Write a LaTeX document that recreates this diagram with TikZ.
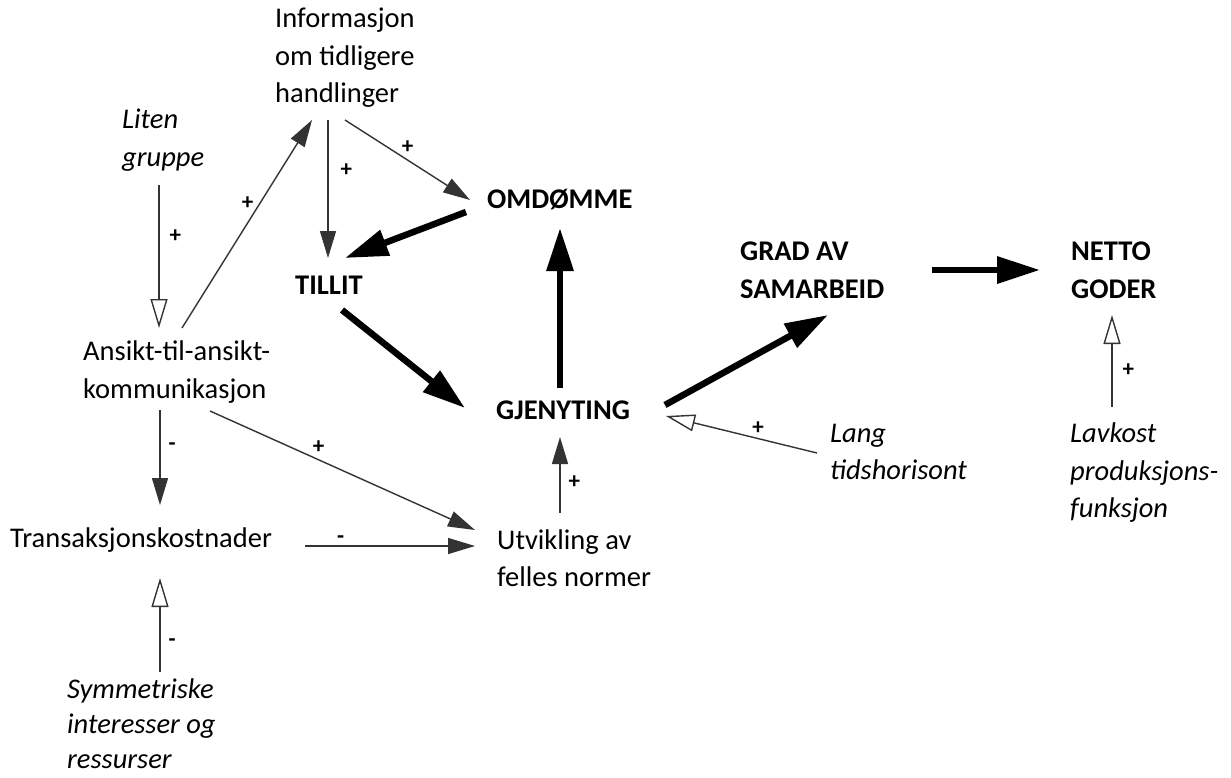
\documentclass[tikz,border=0pt]{standalone}
\usepackage{fontspec}
\setmainfont{Carlito}
\usetikzlibrary{arrows.meta}
\begin{document}
\begin{tikzpicture}[x=1pt,y=-1pt]
    \tikzstyle{word} = [anchor=west,inner sep=0,align=left,font=\fontsize{28.5}{37.5}\selectfont]
    \tikzstyle{core} = [word,font=\fontsize{28.5}{37.5}\selectfont\bfseries]
    \tikzstyle{cond} = [word,font=\fontsize{28.5}{37.5}\selectfont\itshape]
    \tikzstyle{sign} = [inner sep=0,font=\fontsize{23}{26}\selectfont\bfseries]
    \tikzstyle{link} = [draw=black!80,line width=1.4pt,-{Triangle[length=27pt,width=16pt]}]
    \tikzstyle{opn} = [draw=black!80,line width=1.4pt,-{Triangle[open,length=29pt,width=17pt]}]
    \tikzstyle{main} = [draw=black,line width=6.5pt,-{Triangle[length=43pt,width=26pt]}]

    \useasboundingbox (0,0) rectangle (1231,777);

    \node[word] (A) at (275,58) {Informasjon\\om tidligere\\handlinger};
    \node[cond] (B) at (122,140) {Liten\\gruppe};
    \node[core] (C) at (487,200) {OMDØMME};
    \node[core] (D) at (295,285) {TILLIT};
    \node[core] (E) at (740,270) {GRAD AV\\SAMARBEID};
    \node[core] (F) at (1071,270) {NETTO\\GODER};
    \node[word] (G) at (83,372) {Ansikt-til-ansikt-\\kommunikasjon};
    \node[core] (H) at (496,410) {GJENYTING};
    \node[cond] (I) at (830,452) {Lang\\tidshorisont};
    \node[word] (J) at (10,540) {Transaksjonskostnader};
    \node[word] (K) at (497,558) {Utvikling av\\felles normer};
    \node[cond] (L) at (1070,473) {Lavkost\\produksjons-\\funksjon};
    \node[cond,font=\fontsize{28.5}{35}\selectfont\itshape] (M) at (67,724) {Symmetriske\\interesser og\\ressurser};

    % thin links
    \draw[link] ([shift={(53,62)}]A.west) -- node[sign,pos=.36,right=12pt] {+} ([shift={(33,-27)}]D.west);
    \draw[link] ([shift={(70,62)}]A.west) -- node[sign,pos=.5,above=6pt] {+} ([shift={(-17,0)}]C.west);
    \draw[link] ([shift={(99,-44)}]G.west) -- node[sign,pos=.6,left=6pt] {+} ([shift={(37,62)}]A.west);
    \draw[opn] ([shift={(37,45)}]B.west) -- node[sign,pos=.36,right=10pt] {+} ([shift={(76,-44)}]G.west);
    \draw[link] ([shift={(77,38)}]G.west) -- node[sign,pos=.39,right=8pt] {-} ([shift={(150,-35)}]J.west);
    \draw[link] ([shift={(127,39)}]G.west) -- node[sign,pos=.41,above=6pt] {+} ([shift={(-22,-28)}]K.west);
    \draw[link] ([shift={(295,6)}]J.west) -- node[sign,pos=.21,above=2pt] {-} ([shift={(-22,-12)}]K.west);
    \draw[opn] ([shift={(93,-52)}]M.west) -- node[sign,pos=.31,right=8pt] {-} ([shift={(150,38)}]J.west);
    \draw[link] ([shift={(63,-45)}]K.west) -- node[sign,pos=.41,right=8pt] {+} ([shift={(64,27)}]H.west);
    \draw[opn] ([shift={(-13,1)}]I.west) -- node[sign,pos=.39,above=3pt] {+} ([shift={(170,6)}]H.west);
    \draw[opn] ([shift={(42,-66)}]L.west) -- node[sign,pos=.4,right=10pt] {+} ([shift={(41,45)}]F.west);

    % main chain
    \draw[main] ([shift={(-21,12)}]C.west) -- ([shift={(50,-27)}]D.west);
    \draw[main] ([shift={(47,25)}]D.west) -- ([shift={(-31,-2)}]H.west);
    \draw[main] ([shift={(64,-22)}]H.west) -- ([shift={(73,28)}]C.west);
    \draw[main] ([shift={(169,-5)}]H.west) -- ([shift={(88,45)}]E.west);
    \draw[main] ([shift={(192,0)}]E.west) -- ([shift={(-31,0)}]F.west);

\end{tikzpicture}
\end{document}
